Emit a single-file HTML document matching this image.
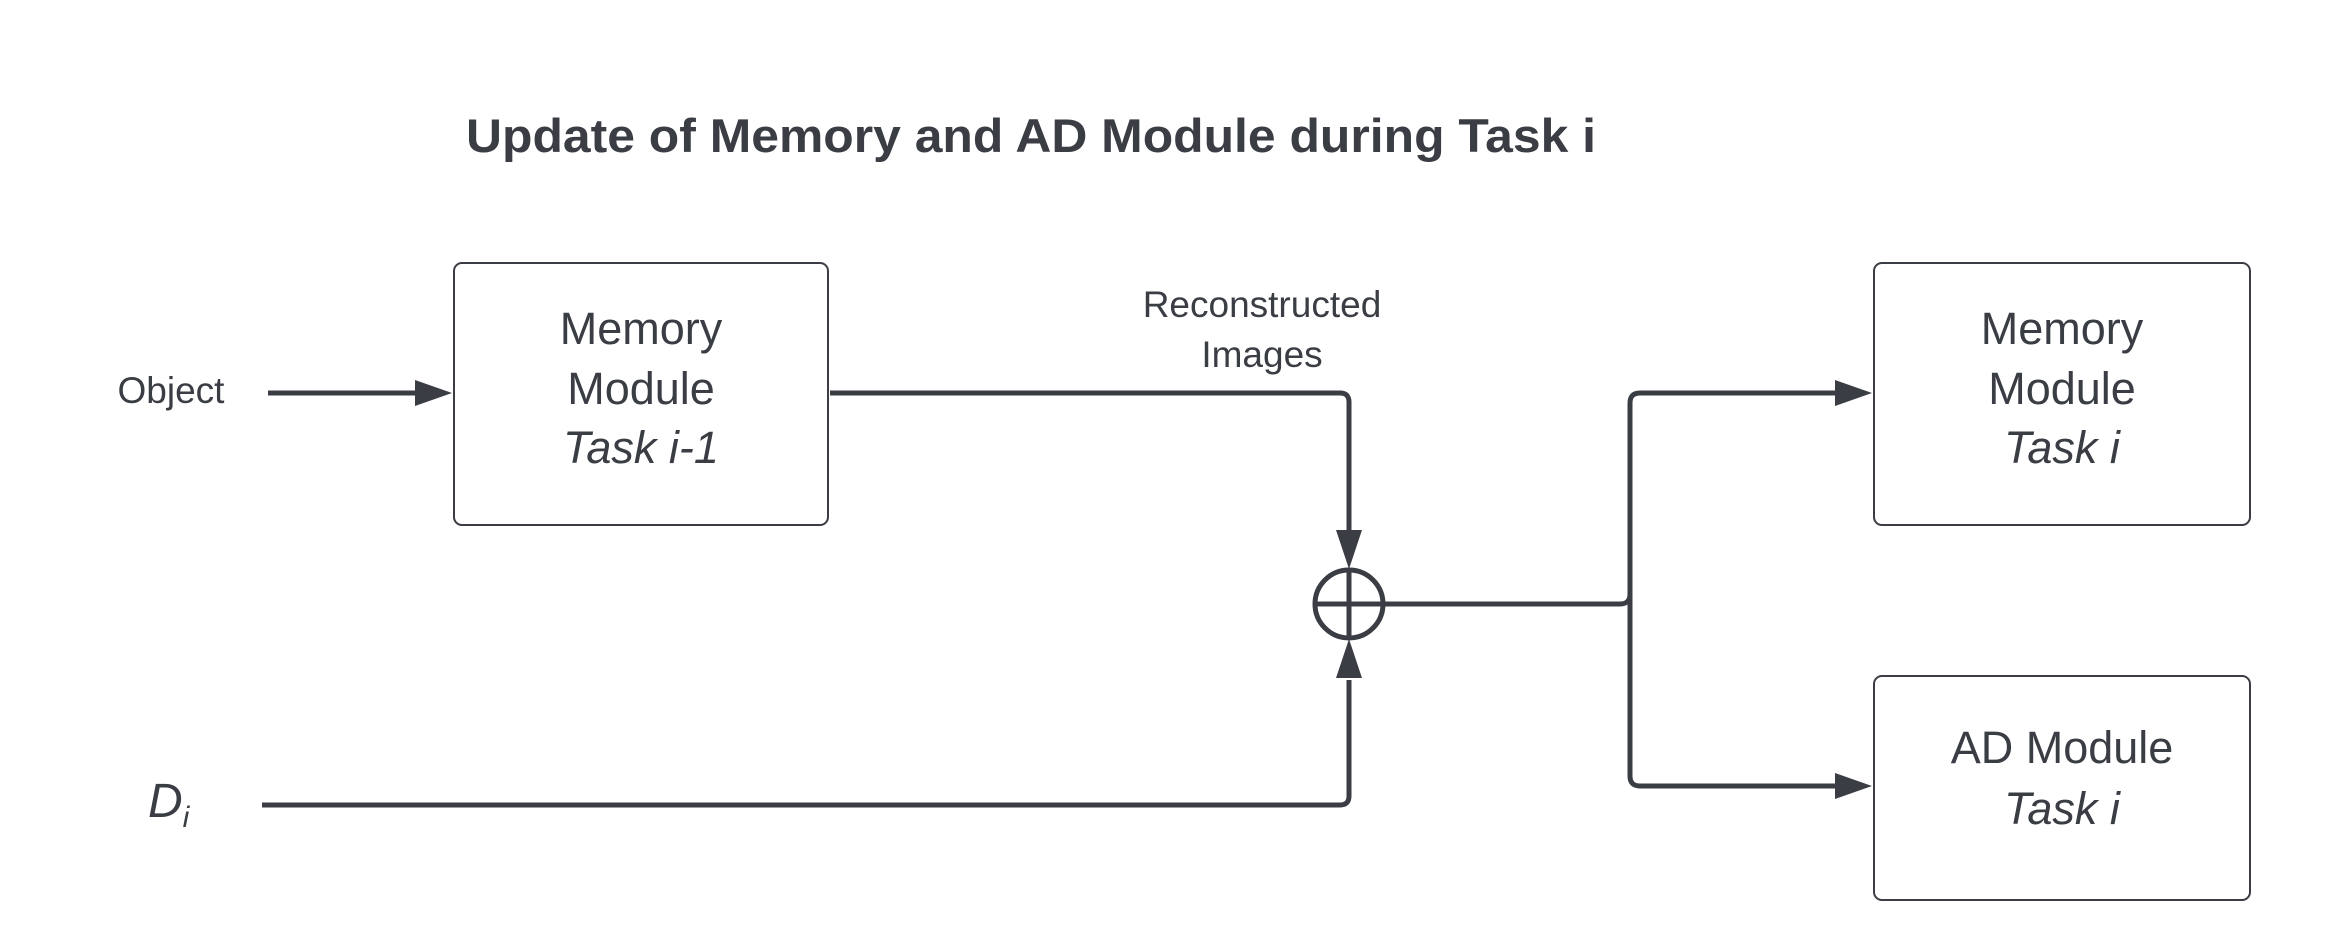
<!DOCTYPE html>
<html><head><meta charset="utf-8"><style>html,body{margin:0;padding:0;background:#fff}svg{display:block}</style></head>
<body>
<svg width="2325" height="949" viewBox="0 0 2325 949" xmlns="http://www.w3.org/2000/svg" font-family="'Liberation Sans', sans-serif" fill="#3a3d44">
<defs><marker id="a" markerWidth="10" markerHeight="8" refX="9.5" refY="4" orient="auto" markerUnits="userSpaceOnUse" viewBox="0 0 10 8"><path d="M0,0 L10,4 L0,8 z" fill="#3a3d44"/></marker></defs>
<text x="466" y="152" font-size="47" font-weight="bold" textLength="1130" lengthAdjust="spacingAndGlyphs">Update of Memory and AD Module during Task i</text>
<g fill="none" stroke="#3a3d44" stroke-width="2">
<rect x="454" y="263" width="374" height="262" rx="8"/>
<rect x="1874" y="263" width="376" height="262" rx="8"/>
<rect x="1874" y="676" width="376" height="224" rx="8"/>
</g>
<g fill="none" stroke="#3a3d44" stroke-width="5" stroke-linejoin="round">
<path d="M268 393 H420"/>
<path d="M830 393 H1340 Q1349 393 1349 402 V530"/>
<path d="M262 805 H1340 Q1349 805 1349 796 V680"/>
<path d="M1383 604 H1620 Q1630 604 1630 594 V403 Q1630 393 1640 393 H1835"/>
<path d="M1630 594 V776 Q1630 786 1640 786 H1835"/>
<circle cx="1349" cy="604" r="34"/>
<path d="M1315 604 H1383 M1349 570 V638"/>
</g>
<g fill="#3a3d44">
<path d="M415 380 L452 393 L415 406 z"/>
<path d="M1336 530 L1349 569 L1362 530 z"/>
<path d="M1336 678 L1349 639 L1362 678 z"/>
<path d="M1835 380 L1872 393 L1835 406 z"/>
<path d="M1835 773 L1872 786 L1835 799 z"/>
</g>
<text x="171" y="403" font-size="37" text-anchor="middle">Object</text>
<text x="1262" y="317" font-size="37" text-anchor="middle">Reconstructed</text>
<text x="1262" y="367" font-size="37" text-anchor="middle">Images</text>
<text x="148" y="817" font-size="48" font-style="italic">D<tspan font-size="30" dy="10">i</tspan></text>
<g font-size="45" text-anchor="middle">
<text x="641" y="344">Memory</text>
<text x="641" y="404">Module</text>
<text x="641" y="463" font-style="italic">Task i-1</text>
<text x="2062" y="344">Memory</text>
<text x="2062" y="404">Module</text>
<text x="2062" y="463" font-style="italic">Task i</text>
<text x="2062" y="763">AD Module</text>
<text x="2062" y="824" font-style="italic">Task i</text>
</g>
</svg>
</body></html>
